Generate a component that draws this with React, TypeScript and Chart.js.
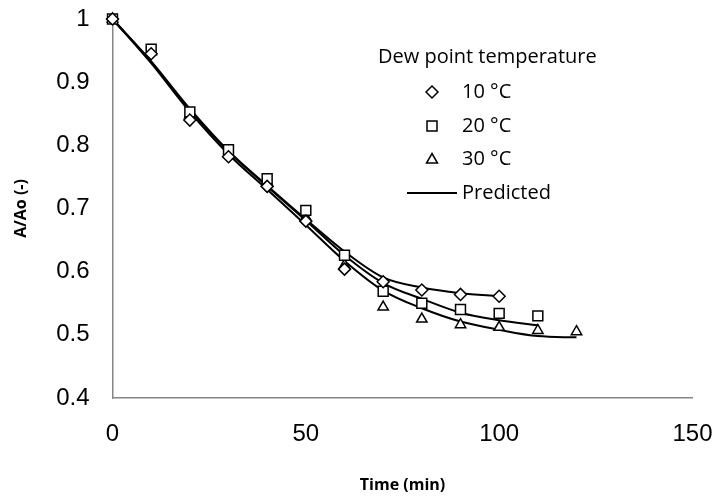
import React, { useEffect, useRef } from 'react';
import { Chart, registerables } from 'chart.js';

Chart.register(...registerables);

// ---- data ----
const times10 = [0, 10, 20, 30, 40, 50, 60, 70, 80, 90, 100];
const times20 = [0, 10, 20, 30, 40, 50, 60, 70, 80, 90, 100, 110];
const times30 = [0, 10, 20, 30, 40, 50, 60, 70, 80, 90, 100, 110, 120];

const obs10 = [1.0, 0.945, 0.84, 0.782, 0.735, 0.68, 0.604, 0.584, 0.571, 0.564, 0.561];
const obs20 = [1.0, 0.952, 0.853, 0.793, 0.747, 0.697, 0.626, 0.569, 0.55, 0.54, 0.534, 0.53];
const obs30 = [1.0, 0.948, 0.848, 0.787, 0.742, 0.686, 0.61, 0.544, 0.525, 0.516, 0.512, 0.507, 0.505];

const pred10 = [1.0, 0.933, 0.858, 0.791, 0.736, 0.683, 0.632, 0.591, 0.575, 0.566, 0.561];
const pred20 = [1.0, 0.932, 0.856, 0.79, 0.735, 0.681, 0.626, 0.582, 0.557, 0.535, 0.523, 0.515];
const pred30 = [1.0, 0.93, 0.853, 0.786, 0.73, 0.674, 0.617, 0.57, 0.542, 0.521, 0.508, 0.498, 0.496];

const xTickValues = [0, 50, 100, 150];
const xTickLabels = ['0', '50', '100', '150'];
const yTickValues = [0.4, 0.5, 0.6, 0.7, 0.8, 0.9, 1.0];
const yTickLabels = ['0.4', '0.5', '0.6', '0.7', '0.8', '0.9', '1'];

const seriesNames = ['10 °C', '20 °C', '30 °C'];
const predictedName = 'Predicted';
const legendTitle = 'Dew point temperature';
const xTitle = 'Time (min)';
const yTitle = 'A/Ao (-)';

const toPoints = (xs: number[], ys: number[]) => xs.map((x, i) => ({ x, y: ys[i] }));

const legendPlugin = {
  id: 'customLegend',
  afterDraw(chart: any) {
    const ctx = chart.ctx as CanvasRenderingContext2D;
    ctx.save();
    ctx.fillStyle = '#000';
    ctx.strokeStyle = '#000';
    ctx.textBaseline = 'middle';
    ctx.textAlign = 'left';
    ctx.font = '20px "Open Sans"';
    ctx.fillText(legendTitle, 378, 57);
    const mx = 432;
    const tx = 462;
    const rows = [92, 126, 159, 193];
    ctx.lineWidth = 1.5;
    // diamond
    let y = rows[0];
    ctx.beginPath();
    ctx.moveTo(mx - 6, y); ctx.lineTo(mx, y - 6); ctx.lineTo(mx + 6, y); ctx.lineTo(mx, y + 6); ctx.closePath();
    ctx.fillStyle = '#fff'; ctx.fill(); ctx.stroke();
    // square
    y = rows[1];
    ctx.beginPath(); ctx.rect(mx - 5, y - 5, 10, 10); ctx.fill(); ctx.stroke();
    // triangle
    y = rows[2];
    ctx.beginPath();
    ctx.moveTo(mx, y - 5.5); ctx.lineTo(mx + 5.5, y + 4); ctx.lineTo(mx - 5.5, y + 4); ctx.closePath();
    ctx.fill(); ctx.stroke();
    // line
    y = rows[3];
    ctx.lineWidth = 2;
    ctx.beginPath(); ctx.moveTo(407, y); ctx.lineTo(457, y); ctx.stroke();
    ctx.fillStyle = '#000';
    ctx.fillText(seriesNames[0], tx, rows[0]);
    ctx.fillText(seriesNames[1], tx, rows[1]);
    ctx.fillText(seriesNames[2], tx, rows[2]);
    ctx.fillText(predictedName, tx, rows[3]);
    ctx.restore();
  },
};

export default function App() {
  const ref = useRef<HTMLCanvasElement | null>(null);
  useEffect(() => {
    if (!ref.current) return;
    const markerCommon = {
      showLine: false,
      clip: false as const,
      backgroundColor: '#ffffff',
      borderColor: '#000000',
      pointBorderWidth: 1.5,
      pointBackgroundColor: '#ffffff',
      pointBorderColor: '#000000',
    };
    const lineCommon = {
      showLine: true,
      clip: false as const,
      pointRadius: 0,
      borderColor: '#000000',
      borderWidth: 2,
      cubicInterpolationMode: 'monotone' as const,
      fill: false,
    };
    const chart = new Chart(ref.current, {
      type: 'scatter',
      data: {
        datasets: [
          { label: seriesNames[0], data: toPoints(times10, obs10), pointStyle: 'rectRot', pointRadius: 6, ...markerCommon },
          { label: seriesNames[1], data: toPoints(times20, obs20), pointStyle: 'rect', pointRadius: 7, ...markerCommon },
          { label: seriesNames[2], data: toPoints(times30, obs30), pointStyle: 'triangle', pointRadius: 6, ...markerCommon },
          { label: predictedName, data: toPoints(times10, pred10), ...lineCommon },
          { label: predictedName + ' 20', data: toPoints(times20, pred20), ...lineCommon },
          { label: predictedName + ' 30', data: toPoints(times30, pred30), ...lineCommon },
        ],
      },
      options: {
        responsive: false,
        animation: false,
        layout: { padding: { top: 19, right: 23.5, left: 0, bottom: 0 } },
        plugins: { legend: { display: false }, tooltip: { enabled: false }, title: { display: false } },
        scales: {
          x: {
            type: 'linear',
            min: 0,
            max: 150,
            afterFit: (s: any) => { s.height = 104; s.paddingLeft = 0; s.paddingRight = 0; },
            afterBuildTicks: (s: any) => { s.ticks = xTickValues.map((v) => ({ value: v })); },
            ticks: {
              padding: 22,
              color: '#000',
              font: { family: '"Liberation Sans", Arial, sans-serif', size: 24 },
              callback: (v: any) => xTickLabels[xTickValues.indexOf(Number(v))] ?? '',
              maxRotation: 0,
            },
            grid: { display: false, drawTicks: false },
            border: { display: true, color: '#868686', width: 1.5 },
            title: {
              display: true,
              text: xTitle,
              color: '#000',
              font: { family: '"Open Sans", sans-serif', size: 16, weight: 'bold' },
              padding: { top: 0, bottom: 6.5 },
            },
          },
          y: {
            type: 'linear',
            min: 0.4,
            max: 1.0,
            afterFit: (s: any) => { s.width = 112.5; s.paddingTop = 0; s.paddingBottom = 0; },
            afterBuildTicks: (s: any) => { s.ticks = yTickValues.map((v) => ({ value: v })); },
            ticks: {
              padding: 23,
              color: '#000',
              font: { family: '"Liberation Sans", Arial, sans-serif', size: 24 },
              callback: (v: any) => {
                const i = yTickValues.findIndex((t) => Math.abs(t - Number(v)) < 1e-6);
                return i >= 0 ? yTickLabels[i] : '';
              },
            },
            grid: { display: false, drawTicks: false },
            border: { display: true, color: '#868686', width: 1.5 },
            title: {
              display: true,
              text: yTitle,
              color: '#000',
              font: { family: '"Open Sans", sans-serif', size: 16, weight: 'bold' },
              padding: { top: 11.5, bottom: 0 },
            },
          },
        },
      },
      plugins: [legendPlugin],
    });
    return () => chart.destroy();
  }, []);
  return (
    <div style={{ position: 'absolute', left: 0, top: 0, width: 716, height: 502, background: '#fff' }}>
      <canvas ref={ref} width={716} height={502} style={{ width: 716, height: 502, display: 'block' }} />
    </div>
  );
}
